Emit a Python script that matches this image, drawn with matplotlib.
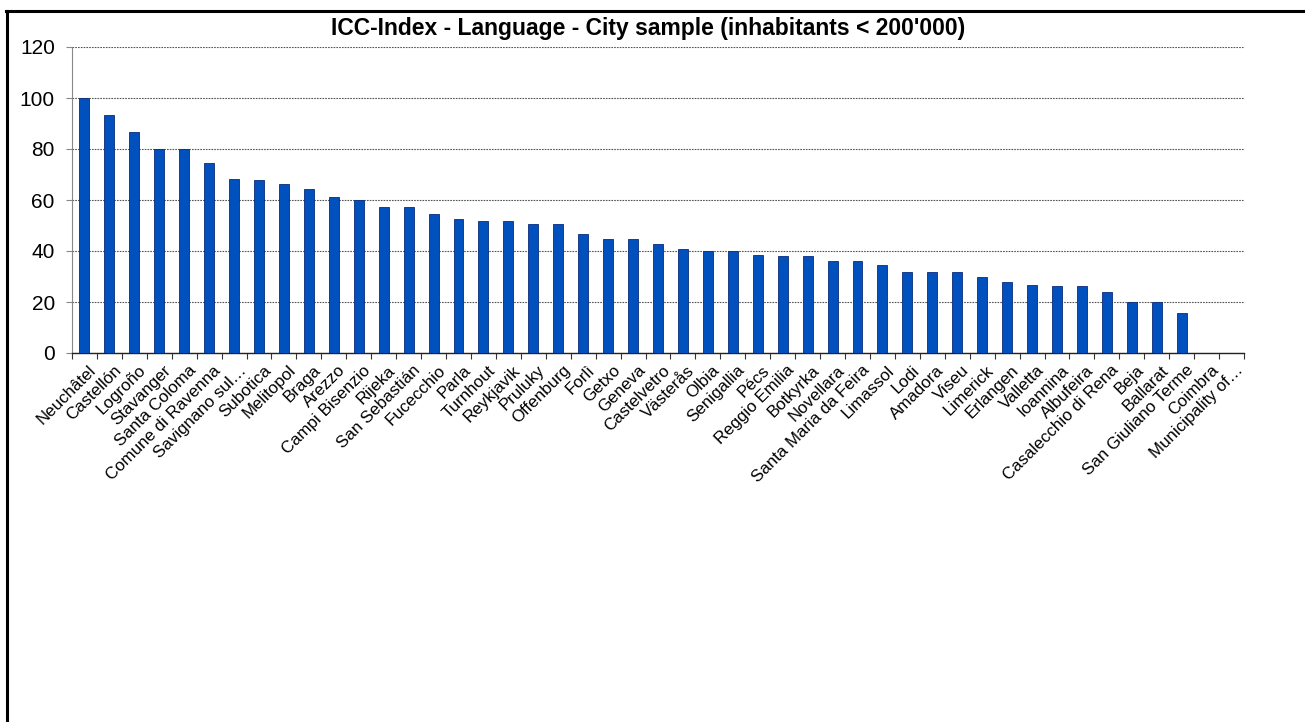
import matplotlib
matplotlib.use("Agg")
import matplotlib.pyplot as plt
from matplotlib.lines import Line2D

plt.rcParams['font.family'] = ['Liberation Sans', 'DejaVu Sans']

cities = [
    "Neuchâtel", "Castellón", "Logroño", "Stavanger", "Santa Coloma",
    "Comune di Ravenna", "Savignano sul…", "Subotica", "Melitopol", "Braga",
    "Arezzo", "Campi Bisenzio", "Rijeka", "San Sebastián", "Fucecchio",
    "Parla", "Turnhout", "Reykjavik", "Pruluky", "Offenburg",
    "Forlì", "Getxo", "Geneva", "Castelvetro", "Västerås",
    "Olbia", "Senigallia", "Pécs", "Reggio Emilia", "Botkyrka",
    "Novellara", "Santa Maria da Feira", "Limassol", "Lodi", "Amadora",
    "Viseu", "Limerick", "Erlangen", "Valletta", "Ioannina",
    "Albufeira", "Casalecchio di Rena", "Beja", "Ballarat", "San Giuliano Terme",
    "Coimbra", "Municipality of…",
]
scores = [
    100.0, 93.3, 86.7, 80.0, 80.0,
    74.4, 68.3, 68.0, 66.4, 64.2,
    61.0, 60.0, 57.3, 57.3, 54.5,
    52.5, 51.8, 51.8, 50.7, 50.7,
    46.5, 44.6, 44.6, 42.6, 40.8,
    40.1, 40.1, 38.4, 38.0, 38.0,
    36.1, 36.1, 34.5, 31.8, 31.8,
    31.8, 29.9, 28.0, 26.5, 26.1,
    26.1, 23.8, 19.9, 19.9, 15.7,
    0.0, 0.0,
]
yticks = [0, 20, 40, 60, 80, 100, 120]
title = "ICC-Index - Language - City sample (inhabitants < 200'000)"

W, H = 1305, 722
fig = plt.figure(figsize=(W / 100, H / 100), dpi=100)

# frame lines around the chart area (top and left)
fig.add_artist(Line2D([6 / W, 1.0], [1 - 11 / H, 1 - 11 / H],
                      transform=fig.transFigure, color="black", lw=2.2))
fig.add_artist(Line2D([7 / W, 7 / W], [0.0, 1 - 11 / H],
                      transform=fig.transFigure, color="black", lw=2.2))

left, right = 72 / W, 1244 / W
bottom, top = 1 - 353 / H, 1 - 47 / H
ax = fig.add_axes([left, bottom, right - left, top - bottom])

x = list(range(len(cities)))
ax.bar(x, scores, width=0.4, color="#0050BE", edgecolor="#0a2a7a",
       linewidth=0.6, zorder=3)

ax.set_xlim(-0.5, len(cities) - 0.5)
ax.set_ylim(0, 120)
ax.set_yticks(yticks)
ax.set_yticklabels([str(t) for t in yticks], fontsize=15)

ax.yaxis.grid(True, color="#555555", linestyle=(0, (1.5, 1)), linewidth=0.8, zorder=0)
ax.set_axisbelow(True)

# category ticks sit on the boundaries between bars
ax.set_xticks([i - 0.5 for i in range(len(cities) + 1)])
ax.set_xticklabels([])
ax.tick_params(axis="x", length=4, direction="out", color="#333333")
ax.tick_params(axis="y", length=4, direction="out", color="#888888", pad=8.4)

# slanted category names under each bar
for i, name in zip(x, cities):
    ax.annotate(name, xy=(i, 0), xycoords=("data", "axes fraction"),
                xytext=(3, -7), textcoords="offset points",
                rotation=45, ha="right", va="top", rotation_mode="anchor",
                fontsize=12.2, annotation_clip=False)

for side in ("top", "right"):
    ax.spines[side].set_visible(False)
ax.spines["left"].set_color("#888888")
ax.spines["bottom"].set_color("#222222")
ax.spines["bottom"].set_linewidth(1.0)

fig.text(648 / W, 1 - 29 / H, title, ha="center", va="center",
         fontsize=16.5, fontweight="bold")

fig.savefig("out.png", dpi=100, facecolor="white")
